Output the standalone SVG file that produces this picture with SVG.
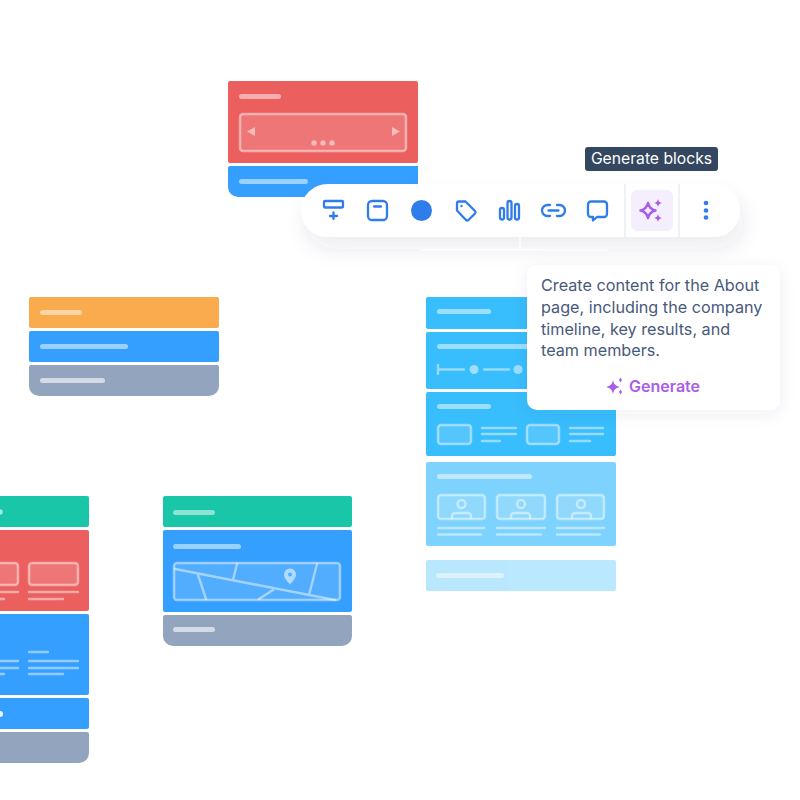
<svg xmlns="http://www.w3.org/2000/svg" width="800" height="800" viewBox="0 0 800 800">
<style>
.bar{fill:#fff;fill-opacity:.5}
.o{fill:#fff;fill-opacity:.15;stroke:#fff;stroke-opacity:.47;stroke-width:2.500}
.l{fill:none;stroke:#fff;stroke-opacity:.47;stroke-width:2.400;stroke-linecap:round}
.d{fill:#fff;fill-opacity:.5}
.i{fill:none;stroke:#2f7deb;stroke-width:2.300;stroke-linecap:round;stroke-linejoin:round}
.p{fill:none;stroke:#a95ee8;stroke-width:2.500;stroke-linejoin:round}
.red{fill:#ec5f5f}.blue{fill:#359fff}.slate{fill:#93a5be}.green{fill:#1ac6a8}.orange{fill:#f9ab4d}.sky{fill:#38bdfd}
.t{font-family:Inter,"Liberation Sans",sans-serif}
</style>
<defs>
<filter id="sh" x="-20%" y="-50%" width="140%" height="240%"><feDropShadow dx="4" dy="12" stdDeviation="10" flood-color="#33466a" flood-opacity=".09"/></filter>
<filter id="sh2" x="-20%" y="-20%" width="140%" height="140%"><feDropShadow dx="0" dy="4" stdDeviation="8" flood-color="#33466a" flood-opacity=".07"/></filter>
</defs>

<g id="stack-red-top">
<rect class="red" x="228" y="81" width="190" height="82" rx="2"/>
<rect class="bar" x="239" y="94" width="42" height="5" rx="2.500"/>
<rect class="o" x="240" y="114" width="166" height="37" rx="3"/>
<path class="d" d="M255 127v9l-8-4.500zM392 127v9l8-4.500z"/>
<circle class="d" cx="314" cy="143" r="2.700"/><circle class="d" cx="323" cy="143" r="2.700"/><circle class="d" cx="332" cy="143" r="2.700"/>
<path class="blue" d="M230 166h188v31H238a10 10 0 0 1-10-10v-19a2 2 0 0 1 2-2z"/>
<rect class="bar" x="239" y="179" width="69" height="5" rx="2.500"/>
</g>

<g id="stack-orange">
<rect class="orange" x="29" y="297" width="190" height="31" rx="2"/>
<rect class="bar" x="40" y="310" width="42" height="5" rx="2.500"/>
<rect class="blue" x="29" y="331" width="190" height="31" rx="2"/>
<rect class="bar" x="40" y="344" width="88" height="5" rx="2.500"/>
<path class="slate" d="M31 365h186a2 2 0 0 1 2 2v19a10 10 0 0 1-10 10H39a10 10 0 0 1-10-10v-19a2 2 0 0 1 2-2z"/>
<rect x="40" y="378" width="65" height="5" rx="2.500" fill="#fff" fill-opacity=".6"/>
</g>

<g id="stack-map">
<rect class="green" x="163" y="496" width="189" height="31" rx="2"/>
<rect class="bar" x="173" y="510" width="42" height="5" rx="2.500"/>
<rect class="blue" x="163" y="530" width="189" height="82" rx="2"/>
<rect class="bar" x="173" y="544" width="68" height="5" rx="2.500"/>
<rect class="o" x="174" y="563" width="166" height="37" rx="3"/>
<path class="l" d="M175 569L335 600M198 575L206 599M237 564L233 580M273 590L259 599M317 564L309 595"/>
<path fill="#fff" fill-opacity=".55" fill-rule="evenodd" d="M290 568.500a6 6 0 0 1 6 6c0 3.500-3 6.500-6 10-3-3.500-6-6.500-6-10a6 6 0 0 1 6-6zm0 4a2 2 0 1 0 0 4 2 2 0 0 0 0-4z"/>
<path class="slate" d="M165 615h185a2 2 0 0 1 2 2v19a10 10 0 0 1-10 10H173a10 10 0 0 1-10-10v-19a2 2 0 0 1 2-2z"/>
<rect x="173" y="627" width="42" height="5" rx="2.500" fill="#fff" fill-opacity=".6"/>
</g>

<g id="stack-left">
<rect class="green" x="-20" y="496" width="109" height="31" rx="2"/>
<circle cx="0" cy="512" r="2.800" fill="#fff" fill-opacity=".6"/>
<rect class="red" x="-20" y="530" width="109" height="81" rx="2"/>
<rect class="o" x="-20" y="563" width="38" height="22" rx="3"/>
<rect class="o" x="29" y="563" width="49" height="22" rx="3"/>
<path class="l" d="M-20 592H18M29 592H78M-20 599H4M29 599H63"/>
<rect class="blue" x="-20" y="614" width="109" height="81" rx="2"/>
<path class="l" d="M29 652H48M-20 661H18M29 661H78M-20 668H18M29 668H78M-20 674H4M29 674H63"/>
<rect class="blue" x="-20" y="698" width="109" height="31" rx="2"/>
<circle cx="0" cy="714" r="3" fill="#fff" fill-opacity=".9"/>
<path class="slate" d="M-20 732H87a2 2 0 0 1 2 2v19a10 10 0 0 1-10 10H-20z"/>
</g>

<g id="stack-about">
<rect class="sky" x="426" y="297" width="190" height="32" rx="2"/>
<rect class="bar" x="437" y="309" width="54" height="5" rx="2.500"/>
<rect class="sky" x="426" y="332" width="190" height="57" rx="2"/>
<rect class="bar" x="437" y="344" width="100" height="5" rx="2.500"/>
<path class="l" d="M438 365v9M438 369.500H464M484 369.500H509"/>
<circle class="d" cx="474" cy="369.500" r="4.500"/><circle class="d" cx="518" cy="369.500" r="4.500"/>
<rect class="sky" x="426" y="392" width="190" height="64" rx="2"/>
<rect class="bar" x="437" y="404" width="54" height="5" rx="2.500"/>
<rect class="o" x="438" y="425" width="33" height="19" rx="3"/>
<rect class="o" x="527" y="425" width="32" height="19" rx="3"/>
<path class="l" d="M482 428H516M482 434H516M482 441H500M570 428H603M570 434H603M570 441H590"/>
<g opacity=".65">
<rect class="sky" x="426" y="462" width="190" height="84" rx="2"/>
<rect class="bar" x="437" y="474" width="95" height="5" rx="2.500"/>
<rect class="o" x="438" y="495" width="47" height="24" rx="3"/>
<rect class="o" x="497" y="495" width="48" height="24" rx="3"/>
<rect class="o" x="557" y="495" width="47" height="24" rx="3"/>
<g class="l">
<circle cx="461.500" cy="504" r="4"/><path d="M452 518v-2a3 3 0 0 1 3-3h13a3 3 0 0 1 3 3v2"/>
<circle cx="521" cy="504" r="4"/><path d="M511 518v-2a3 3 0 0 1 3-3h13a3 3 0 0 1 3 3v2"/>
<circle cx="581" cy="504" r="4"/><path d="M572 518v-2a3 3 0 0 1 3-3h13a3 3 0 0 1 3 3v2"/>
</g>
<path class="l" d="M438 528H484M497 528H545M557 528H604M438 534.500H481M497 534.500H541M557 534.500H600"/>
</g>
<g opacity=".35">
<rect class="sky" x="426" y="560" width="190" height="31" rx="2"/>
<rect class="bar" x="436" y="573" width="68" height="5" rx="2.500"/>
</g>
</g>

<g id="toolbar">
<rect x="301" y="184" width="439" height="53" rx="26.500" fill="#fff" filter="url(#sh)"/>
<path d="M420 250H608M520 237V250" fill="none" stroke="#fff" stroke-width="1.500" stroke-opacity=".8"/>
<rect class="i" x="324" y="201" width="19" height="6.500" rx="1"/>
<path class="i" d="M333.500 212.500v6.500M330 216h7"/>
<rect class="i" x="368" y="201" width="19" height="19" rx="4"/>
<path class="i" d="M374 206.500h7"/>
<circle cx="421.500" cy="210.500" r="10.500" fill="#2f7deb"/>
<path class="i" d="M457 203.500a2 2 0 0 1 2-2h6.500l9.500 9.500a2 2 0 0 1 0 2.500l-6.500 6.500a2 2 0 0 1-2.500 0l-9-9.500z"/>
<circle cx="461.500" cy="206" r="1.200" fill="#2f7deb"/>
<rect class="i" x="500" y="208" width="4" height="11.500" rx="2"/>
<rect class="i" x="507.500" y="201" width="4" height="18.500" rx="2"/>
<rect class="i" x="515" y="204" width="4" height="15.500" rx="2"/>
<path class="i" d="M550 205h-2.500a5.500 5.500 0 0 0 0 11h2.500M557 205h2.500a5.500 5.500 0 0 1 0 11h-2.500M548.500 210.500h10"/>
<path class="i" d="M591 201.500h13a3 3 0 0 1 3 3v9.500a3 3 0 0 1-3 3h-7l-4 3.500v-3.500h-2a3 3 0 0 1-3-3v-9.500a3 3 0 0 1 3-3z"/>
<path d="M625 184V237M679 184V237" stroke="#e9edf2" stroke-width="1.500"/>
<rect x="631" y="190" width="42" height="41" rx="6" fill="#f5effd"/>
<path class="p" d="M648 203c1 4.500 3 6.500 7.500 7.500-4.500 1-6.500 3-7.500 7.500-1-4.500-3-6.500-7.500-7.500 4.500-1 6.500-3 7.500-7.500z"/>
<path d="M658 199c.5 2.500 1.500 3.500 4 4-2.500.5-3.500 1.500-4 4-.5-2.500-1.500-3.500-4-4 2.500-.5 3.500-1.500 4-4zM658 214c.5 2.500 1.500 3.500 4 4-2.500.5-3.500 1.500-4 4-.5-2.500-1.500-3.500-4-4 2.500-.5 3.500-1.500 4-4z" fill="#a95ee8"/>
<circle cx="706" cy="203" r="2.300" fill="#2f7deb"/><circle cx="706" cy="210.500" r="2.300" fill="#2f7deb"/><circle cx="706" cy="217.500" r="2.300" fill="#2f7deb"/>
</g>

<g id="tooltip">
<rect x="585" y="147" width="133" height="24" rx="3" fill="#344760"/>
<text class="t" x="651.500" y="164" font-size="15.700" fill="#fff" text-anchor="middle">Generate blocks</text>
</g>

<g id="popup">
<rect x="527" y="265" width="253" height="145" rx="10" fill="#fff" filter="url(#sh2)"/>
<g class="t" font-size="16.200" fill="#48597a">
<text x="541" y="291">Create content for the About</text>
<text x="541" y="313">page, including the company</text>
<text x="541" y="335">timeline, key results, and</text>
<text x="541" y="356">team members.</text>
</g>
<path d="M613 380c.8 4 2.200 5.700 7 7-4.800 1.300-6.200 3-7 7-.8-4-2.200-5.700-7-7 4.800-1.300 6.200-3 7-7zM619 380l1.500 2.500 1.500-2.500-1.500-2.500zM619 392l1.500 2.500 1.500-2.500-1.500-2.500z" fill="#a95ee8"/>
<text class="t" x="629" y="391.500" font-size="16" font-weight="600" fill="#a95ee8">Generate</text>
</g>
</svg>
